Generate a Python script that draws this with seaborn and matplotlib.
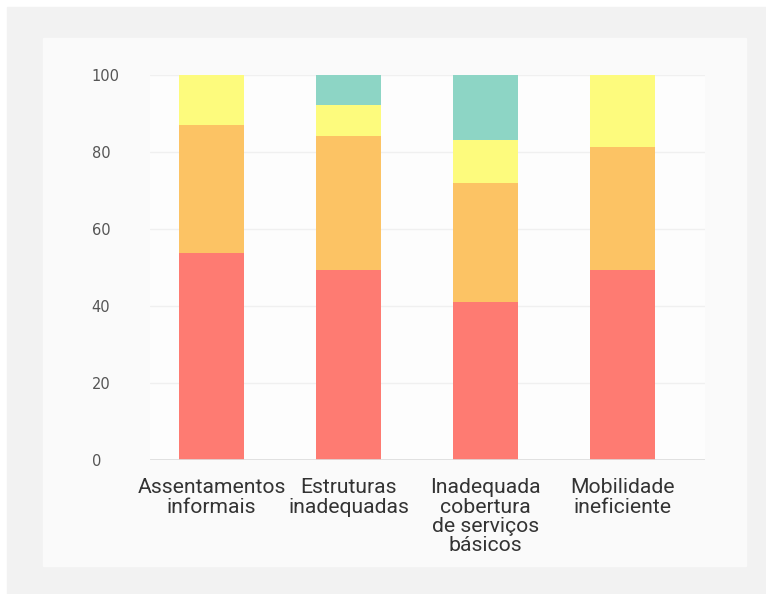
import matplotlib
matplotlib.use("Agg")
import matplotlib.pyplot as plt
from matplotlib.patches import Rectangle
import seaborn as sns
import pandas as pd
import numpy as np

categories = [
    "Assentamentos\ninformais",
    "Estruturas\ninadequadas",
    "Inadequada\ncobertura\nde serviços\nbásicos",
    "Mobilidade\nineficiente",
]
red_vals = [53.8, 49.4, 41.1, 49.4]
orange_vals = [33.3, 34.8, 30.8, 32.0]
yellow_vals = [12.9, 8.0, 11.2, 18.6]
teal_vals = [0.0, 7.8, 16.9, 0.0]
y_ticks = [0, 20, 40, 60, 80, 100]

colors = ["#fe7b72", "#fcc364", "#fdfb7d", "#8dd5c5"]

sns.set_theme(style="white")
plt.rcParams["font.family"] = ["Roboto", "DejaVu Sans"]

W, H = 766, 594
fig = plt.figure(figsize=(W / 100, H / 100), dpi=100, facecolor="white")

# framed panels behind the chart
fig.patches.append(Rectangle((7 / W, 0), 1 - 7 / W, 1 - 7 / H,
                             transform=fig.transFigure, color="#f2f2f2", zorder=-20))
fig.patches.append(Rectangle((43 / W, 1 - 566 / H), (746 - 43) / W, (566 - 38) / H,
                             transform=fig.transFigure, color="#fafafa", zorder=-10))

ax = fig.add_axes([150 / W, 1 - 460 / H, (705 - 150) / W, (460 - 75) / H])
ax.set_facecolor("#fdfdfd")

df = pd.DataFrame({
    "cat": categories,
    "red": red_vals,
    "orange": orange_vals,
    "yellow": yellow_vals,
    "teal": teal_vals,
})
layers = ["red", "orange", "yellow", "teal"]
cum = df[layers].cumsum(axis=1)
cum["cat"] = df["cat"]

# draw cumulative totals from the top layer down so each layer overlays the next
for layer, col in zip(reversed(layers), reversed(colors)):
    sns.barplot(data=cum, x="cat", y=layer, color=col,
                width=0.474, saturation=1, linewidth=0, ax=ax, zorder=3,
                order=categories)

ax.set_xlim(-0.45, 3.6)
ax.set_ylim(0, 100)
ax.set_yticks(y_ticks)
ax.set_yticklabels([str(v) for v in y_ticks], fontfamily="DejaVu Sans",
                   fontsize=10.5, color="#555555", ha="left")
ax.tick_params(axis="y", length=0, pad=42)
ax.tick_params(axis="x", length=0, pad=13, labelsize=15.2, labelcolor="#333333")
ax.set_xlabel("")
ax.set_ylabel("")
for sp in ax.spines.values():
    sp.set_visible(False)
ax.grid(axis="y", color="#f0f0f0", linewidth=1, zorder=0)
ax.axhline(0, color="#dddddd", linewidth=1.2, zorder=4)
for lbl in ax.get_xticklabels():
    lbl.set_ha("center")
    lbl.set_multialignment("center")
    lbl.set_linespacing(1.03)

fig.savefig("out.png", dpi=100, facecolor="white")
